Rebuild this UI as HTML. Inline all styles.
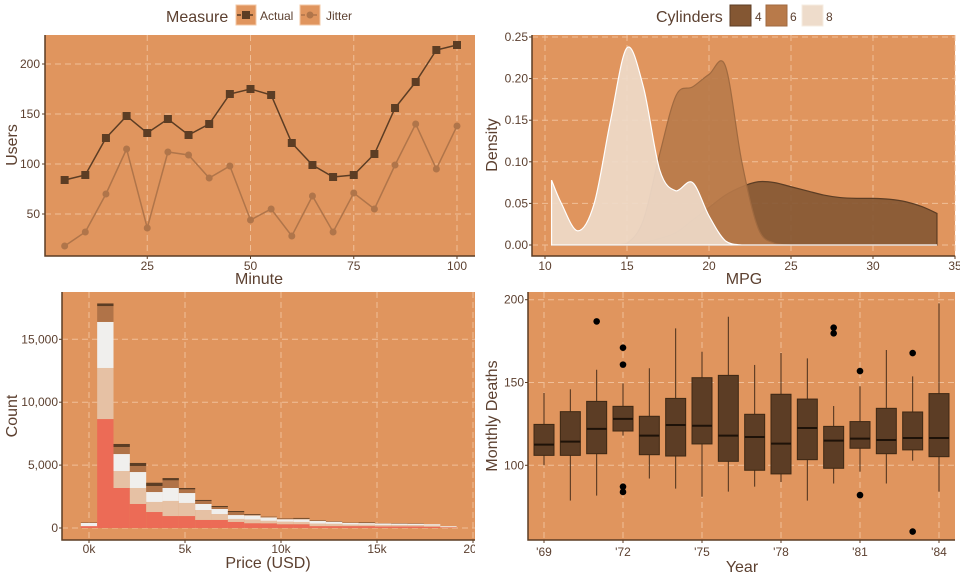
<!DOCTYPE html>
<html><head><meta charset="utf-8">
<style>
body{margin:0;background:#fff;}
svg{display:block;font-family:"Liberation Sans",sans-serif;}
.tk{font-size:12px;fill:#5c4030;}
.tt{font-size:16px;fill:#5c4030;}
.grid{stroke:#f0bf98;stroke-width:1;stroke-dasharray:6,4;}
</style></head>
<body>
<svg id="c" width="960" height="576" viewBox="0 0 960 576"></svg>
<script>
// ---- Panel 1: users per minute
const minutes=[5,10,15,20,25,30,35,40,45,50,55,60,65,70,75,80,85,90,95,100];
const actualUsers=[84,89,126,148,131,145,129,140,170,175,169,121,99,87,89,110,156,182,214,219];
const jitterUsers=[18,32,70,115,36,112,109,86,98,44,55,28,68,32,71,55,99,140,95,138];
const minuteTicks=[25,50,75,100];
const userTicks=[50,100,150,200];
// ---- Panel 2: MPG density
const mpgGrid=[10.4,11,12,13,14,15,16,17,18,19,20,21,22,23,24,25,26,27,28,29,30,31,32,33,33.9];
const dens4=[0,0,0,0,0,0.001,0.003,0.008,0.015,0.03,0.045,0.06,0.07,0.076,0.075,0.07,0.065,0.06,0.057,0.056,0.056,0.055,0.052,0.046,0.038];
const dens6=[0,0,0,0,0,0.002,0.03,0.11,0.18,0.19,0.205,0.215,0.1,0.02,0.002,0,0,0,0,0,0,0,0,0,0];
const dens8=[0.078,0.05,0.017,0.05,0.15,0.237,0.19,0.09,0.065,0.075,0.035,0.005,0,0,0,0,0,0,0,0,0,0,0,0,0];
const mpgTicks=[10,15,20,25,30,35];
const densTicks=[0,0.05,0.10,0.15,0.20,0.25];
// ---- Panel 3: price histogram (stacked)
const binWidthK=0.851;
const histRed=[150,8660,3180,1910,1270,950,950,640,640,480,380,370,300,300,150,150,150,150,120,120,120,100,40];
const histPeach=[0,4060,1350,1270,800,1200,1040,790,470,240,300,200,200,180,200,180,130,120,120,120,110,100,40];
const histWhite=[250,3660,1350,1270,790,1030,790,480,400,310,320,270,200,220,220,170,130,120,120,110,110,100,60];
const histBrown=[30,1260,560,480,480,610,290,240,160,240,50,40,30,40,20,20,10,10,10,10,10,0,0];
const histDark=[20,210,240,240,260,180,110,80,80,80,60,20,30,60,30,20,20,40,10,20,20,0,0];
const priceTicks=[0,5,10,15,20];
const countTicks=[0,5000,10000,15000];
// ---- Panel 4: boxplots
const years=[69,70,71,72,73,74,75,76,77,78,79,80,81,82,83,84];
const boxLow=[100,78.7,81.7,117.9,92,85.9,81,84.1,87.1,89.9,78.7,89,96.2,89,102.8,84.1];
const boxQ1=[106,106,107,120.7,106.4,105.6,112.9,102.4,97,94.8,103.4,98.2,110.3,107,109.3,105.2];
const boxMed=[112.5,114.3,122,128,117.9,124.3,123.9,117.9,117.1,113.1,122.5,114.9,116.1,115.3,116.5,116.5];
const boxQ3=[124.7,132.4,138.6,135.6,129.6,140.4,152.9,154.3,130.8,142.9,140,123.5,126.4,134.4,132.2,143.3];
const boxHigh=[143.7,145.9,157.7,149.5,158.6,182.7,168.6,189.7,160.6,167.8,164.6,135.8,147.7,169.6,153.7,197.8];
const outlierYears=[71,72,72,72,72,80,80,81,81,83,83];
const outlierValues=[186.9,171,160.8,87.1,83.9,183.1,179.7,156.9,82,167.8,60];
const yearTicks=[69,72,75,78,81,84];
const deathTicks=[100,150,200];

const NS="http://www.w3.org/2000/svg";
const svg=document.getElementById('c');
function mk(tag,attrs,parent){const e=document.createElementNS(NS,tag);for(const k in attrs)e.setAttribute(k,attrs[k]);(parent||svg).appendChild(e);return e;}
function txt(s,x,y,cls,anchor,parent,rot){const e=mk('text',{x:x,y:y,class:cls,'text-anchor':anchor||'middle'},parent);if(rot)e.setAttribute('transform','rotate(-90 '+x+' '+y+')');e.textContent=s;return e;}
function lin(d0,d1,r0,r1){return v=>r0+(v-d0)*(r1-r0)/(d1-d0);}
function panel(name,x0,y0,x1,y1){
  const g=mk('g',{});
  
  
  mk('rect',{x:x0,y:y0,width:x1-x0,height:y1-y0,fill:'#e0955e'},g);
  return g;
}
function axes(g,x0,y0,x1,y1){
  mk('path',{d:`M${x0},${y0}V${y1}H${x1}`,stroke:'#5c3d24','stroke-width':1.5,fill:'none'},g);
}
function smooth(pts){
  let d=`M${pts[0][0]},${pts[0][1]}`;
  for(let i=0;i<pts.length-1;i++){
    const p0=pts[Math.max(0,i-1)],p1=pts[i],p2=pts[i+1],p3=pts[Math.min(pts.length-1,i+2)];
    const c1=[p1[0]+(p2[0]-p0[0])/6,p1[1]+(p2[1]-p0[1])/6],c2=[p2[0]-(p3[0]-p1[0])/6,p2[1]-(p3[1]-p1[1])/6];
    d+=`C${c1[0]},${Math.min(c1[1],Math.max(p1[1],p2[1])+0)} ${c2[0]},${Math.min(c2[1],Math.max(p1[1],p2[1]))} ${p2[0]},${p2[1]}`;
  }
  return d;
}

// ===== Panel 1 =====
(function(){
  const X0=45,X1=475,Y0=35,Y1=256;
  const g=panel('users-line-chart',X0,Y0,X1,Y1);
  const x=lin(0,100,44,457), y=lin(0,200,264,64);
  minuteTicks.forEach(t=>{mk('line',{x1:x(t),x2:x(t),y1:Y0,y2:Y1,class:'grid'},g);});
  userTicks.forEach(t=>{mk('line',{x1:X0,x2:X1,y1:y(t),y2:y(t),class:'grid'},g);});
  axes(g,X0,Y0,X1,Y1);
  minuteTicks.forEach(t=>{mk('line',{x1:x(t),x2:x(t),y1:Y1,y2:Y1+3,stroke:'#5c3d24'},g);txt(t,x(t),270,'tk','middle',g);});
  userTicks.forEach(t=>{mk('line',{x1:X0-3,x2:X0,y1:y(t),y2:y(t),stroke:'#5c3d24'},g);txt(t,X0-5,y(t)+4,'tk','end',g);});
  const jl=mk('polyline',{points:minutes.map((m,i)=>x(m)+','+y(jitterUsers[i])).join(' '),fill:'none',stroke:'#b0754a','stroke-width':1.5},g);
  
  
  minutes.forEach((m,i)=>{const c=mk('circle',{cx:x(m),cy:y(jitterUsers[i]),r:3.5,fill:'#b0754a'},g);
    
    });
  const al=mk('polyline',{points:minutes.map((m,i)=>x(m)+','+y(actualUsers[i])).join(' '),fill:'none',stroke:'#5c3d24','stroke-width':1.5},g);
  
  
  minutes.forEach((m,i)=>{const r=mk('rect',{x:x(m)-4,y:y(actualUsers[i])-4,width:8,height:8,fill:'#5c3d24'},g);
    
    });
  txt('Minute',259,284,'tt','middle',g);
  txt('Users',17,145,'tt','middle',g,true);
})();

// ===== Panel 2 =====
(function(){
  const X0=532,X1=955,Y0=35,Y1=256;
  const g=panel('mpg-density-chart',X0,Y0,X1,Y1);
  const x=lin(10,35,545,955), y=lin(0,0.25,245,37);
  mpgTicks.forEach(t=>{mk('line',{x1:x(t),x2:x(t),y1:Y0,y2:Y1,class:'grid'},g);});
  densTicks.forEach(t=>{mk('line',{x1:X0,x2:X1,y1:y(t),y2:y(t),class:'grid'},g);});
  axes(g,X0,Y0,X1,Y1);
  mpgTicks.forEach(t=>{mk('line',{x1:x(t),x2:x(t),y1:Y1,y2:Y1+3,stroke:'#5c3d24'},g);txt(t,x(t),270,'tk','middle',g);});
  densTicks.forEach(t=>{mk('line',{x1:X0-3,x2:X0,y1:y(t),y2:y(t),stroke:'#5c3d24'},g);txt(t.toFixed(2),X0-4,y(t)+4,'tk','end',g);});
  const series=[[dens4,'#845733','#5c3d24','density-4-cyl'],[dens6,'#b87a4a','#a06a40','density-6-cyl'],[dens8,'#eedccb','#ffffff','density-8-cyl']];
  series.forEach(s=>{
    const pts=mpgGrid.map((m,i)=>[x(m),y(s[0][i])]);
    const d=smooth(pts)+`L${x(mpgGrid[mpgGrid.length-1])},${y(0)}L${x(mpgGrid[0])},${y(0)}Z`;
    const p=mk('path',{d:d,fill:s[1],'fill-opacity':0.9,stroke:s[2],'stroke-width':1.2},g);
    
    
  });
  txt('MPG',744,284,'tt','middle',g);
  txt('Density',497,145,'tt','middle',g,true);
})();

// ===== Panel 3 =====
(function(){
  const X0=62,X1=475,Y0=292,Y1=540;
  const g=panel('price-histogram',X0,Y0,X1,Y1);
  const x=lin(0,20,89,473), y=lin(0,15000,528,339.3);
  priceTicks.forEach(t=>{mk('line',{x1:x(t),x2:x(t),y1:Y0,y2:Y1,class:'grid'},g);});
  countTicks.forEach(t=>{mk('line',{x1:X0,x2:X1,y1:y(t),y2:y(t),class:'grid'},g);});
  const layers=[[histRed,'#ec6b56','cut-ideal'],[histPeach,'#e6c1a4','cut-premium'],[histWhite,'#f0efed','cut-very-good'],[histBrown,'#b07348','cut-good'],[histDark,'#5c3d24','cut-fair']];
  histRed.forEach((_,i)=>{
    let base=0;const c=i*binWidthK;
    layers.forEach(L=>{
      const v=L[0][i];
      const r=mk('rect',{x:x(c-binWidthK/2),y:y(base+v),width:x(binWidthK)-x(0),height:y(base)-y(base+v),fill:L[1]},g);
      
      
      base+=v;
    });
  });
  axes(g,X0,Y0,X1,Y1);
  priceTicks.forEach(t=>{mk('line',{x1:x(t),x2:x(t),y1:Y1,y2:Y1+3,stroke:'#5c3d24'},g);txt(t+'k',x(t),553,'tk','middle',g);});
  countTicks.forEach(t=>{mk('line',{x1:X0-3,x2:X0,y1:y(t),y2:y(t),stroke:'#5c3d24'},g);txt(t.toLocaleString('en-US'),X0-4,y(t)+4,'tk','end',g);});
  txt('Price (USD)',268,568,'tt','middle',g);
  txt('Count',17,416,'tt','middle',g,true);
  mk('rect',{x:475,y:540,width:10,height:20,fill:'#fff'});
})();

// ===== Panel 4 =====
(function(){
  const X0=528,X1=955,Y0=292,Y1=540;
  const g=panel('deaths-boxplot',X0,Y0,X1,Y1);
  const x=lin(69,84,544,939), y=lin(100,200,465.3,299.7);
  yearTicks.forEach(t=>{mk('line',{x1:x(t),x2:x(t),y1:Y0,y2:Y1,class:'grid'},g);});
  deathTicks.forEach(t=>{mk('line',{x1:X0,x2:X1,y1:y(t),y2:y(t),class:'grid'},g);});
  axes(g,X0,Y0,X1,Y1);
  yearTicks.forEach(t=>{mk('line',{x1:x(t),x2:x(t),y1:Y1,y2:Y1+3,stroke:'#5c3d24'},g);txt("'"+t,x(t),556,'tk','middle',g);});
  deathTicks.forEach(t=>{mk('line',{x1:X0-3,x2:X0,y1:y(t),y2:y(t),stroke:'#5c3d24'},g);txt(t,X0-4,y(t)+4,'tk','end',g);});
  years.forEach((yr,i)=>{
    const cx=x(yr);
    const bg=mk('g',{},g);
    
    
    mk('line',{x1:cx,x2:cx,y1:y(boxLow[i]),y2:y(boxHigh[i]),stroke:'#4a301c','stroke-width':1},bg);
    mk('rect',{x:cx-10,y:y(boxQ3[i]),width:20,height:y(boxQ1[i])-y(boxQ3[i]),fill:'#5c3d25',stroke:'#3e2814','stroke-width':1},bg);
    mk('line',{x1:cx-10,x2:cx+10,y1:y(boxMed[i]),y2:y(boxMed[i]),stroke:'#1e1208','stroke-width':2},bg);
  });
  outlierYears.forEach((yr,i)=>{const c=mk('circle',{cx:x(yr),cy:y(outlierValues[i]),r:3.3,fill:'#000'},g);
    
    });
  txt('Year',742,572,'tt','middle',g);
  txt('Monthly Deaths',497,416,'tt','middle',g,true);
})();

// ===== Legends =====
(function(){
  const g=mk('g',{});
  
  
  txt('Measure',166,22,'tt','start',g);
  mk('rect',{x:236,y:5,width:20,height:20,fill:'#e0955e',stroke:'#f3c8a6'},g);
  mk('line',{x1:237,x2:255,y1:15,y2:15,stroke:'#5c3d24','stroke-width':1.5,'stroke-dasharray':'4,2'},g);
  mk('rect',{x:242,y:11,width:8,height:8,fill:'#5c3d24'},g);
  txt('Actual',260,20,'tk','start',g);
  mk('rect',{x:300,y:5,width:20,height:20,fill:'#e0955e',stroke:'#f3c8a6'},g);
  mk('line',{x1:301,x2:319,y1:15,y2:15,stroke:'#b0754a','stroke-width':1.5,'stroke-dasharray':'4,2'},g);
  mk('circle',{cx:310,cy:15,r:3.5,fill:'#b0754a'},g);
  txt('Jitter',326,20,'tk','start',g);

  const h=mk('g',{});
  
  
  txt('Cylinders',656,22,'tt','start',h);
  mk('rect',{x:730,y:5,width:21,height:21,fill:'#845733',stroke:'#5c3d24'},h);
  txt('4',755,21,'tk','start',h);
  mk('rect',{x:766,y:5,width:21,height:21,fill:'#b87a4a',stroke:'#a06a40'},h);
  txt('6',790,21,'tk','start',h);
  mk('rect',{x:802,y:5,width:21,height:21,fill:'#eedccb',stroke:'#f6ece2'},h);
  txt('8',826,21,'tk','start',h);
})();
</script>
</body></html>
